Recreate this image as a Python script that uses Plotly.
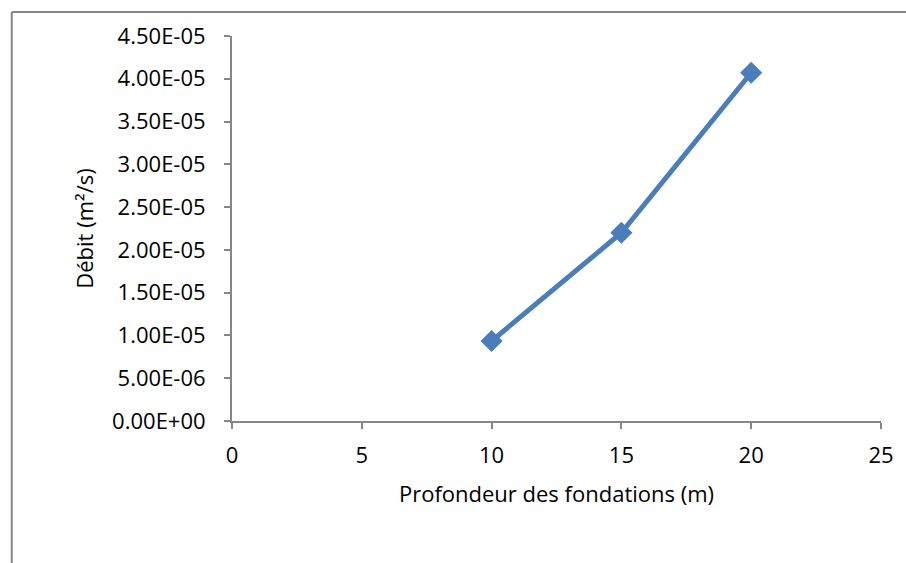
import plotly.graph_objects as go

# Débit en fonction de la profondeur des fondations
profondeur = [10, 15, 20]
debit = [9.35e-06, 2.20e-05, 4.07e-05]

y_tick_values = [0, 5e-06, 1e-05, 1.5e-05, 2e-05, 2.5e-05, 3e-05, 3.5e-05, 4e-05, 4.5e-05]
y_tick_labels = ["0.00E+00", "5.00E-06", "1.00E-05", "1.50E-05", "2.00E-05",
                 "2.50E-05", "3.00E-05", "3.50E-05", "4.00E-05", "4.50E-05"]
x_tick_values = [0, 5, 10, 15, 20, 25]

font_family = "Open Sans, DejaVu Sans, sans-serif"
axis_grey = "#868686"
line_blue = "#4a7ebb"
text_size = 22

fig = go.Figure()
fig.add_trace(go.Scatter(
    x=profondeur,
    y=debit,
    mode="lines+markers",
    line=dict(color=line_blue, width=5),
    marker=dict(symbol="diamond", size=17, color=line_blue),
    showlegend=False,
))

fig.update_layout(
    width=906,
    height=563,
    margin=dict(l=232, r=20, t=36, b=142),
    paper_bgcolor="white",
    plot_bgcolor="white",
    font=dict(family=font_family, size=text_size, color="#000000"),
    xaxis=dict(
        range=[0, 25],
        tickvals=x_tick_values,
        showgrid=False,
        zeroline=False,
        showline=True,
        linecolor=axis_grey,
        linewidth=2,
        ticks="outside",
        ticklen=6,
        tickwidth=2,
        tickcolor=axis_grey,
        ticklabelstandoff=8,
        tickfont=dict(size=text_size),
        title=dict(text="Profondeur des fondations (m)", font=dict(size=text_size), standoff=18),
    ),
    yaxis=dict(
        range=[0, 4.5e-05],
        tickvals=y_tick_values,
        ticktext=y_tick_labels,
        showgrid=False,
        zeroline=False,
        showline=True,
        linecolor=axis_grey,
        linewidth=2,
        ticks="outside",
        ticklen=6,
        tickwidth=2,
        tickcolor=axis_grey,
        ticklabelstandoff=14,
        tickfont=dict(size=text_size),
        title=dict(text="Débit (m²/s)", font=dict(size=text_size), standoff=12),
    ),
    shapes=[
        # outer chart frame (left and top edges visible)
        dict(type="line", xref="paper", yref="paper", x0=-0.3394, x1=-0.3394,
             y0=1.0623, y1=-1.0, line=dict(color=axis_grey, width=2)),
        dict(type="line", xref="paper", yref="paper", x0=-0.3394, x1=2.0,
             y0=1.0623, y1=1.0623, line=dict(color=axis_grey, width=2)),
    ],
)

fig.write_html("out.html")
